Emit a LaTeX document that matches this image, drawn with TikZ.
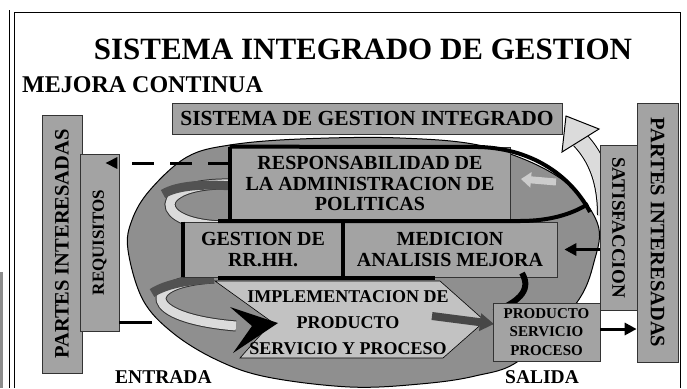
\documentclass[tikz,border=0pt]{standalone}
\usepackage{fontspec}
\setmainfont{Liberation Serif}
\usetikzlibrary{arrows.meta,calc}
\begin{document}
\begin{tikzpicture}[x=1pt,y=-1pt]
\tikzset{
 gbox/.style={draw=black!80, fill=black!36, line width=0.7pt, inner sep=0pt, align=center},
 heavy/.style={line width=4pt, black},
 ftw/.style={font=\bfseries\fontsize{20}{20.5}\selectfont},
 lbl/.style={inner sep=0pt},
 bandout/.style={black!80, line width=11pt},
 bandin/.style={black!14, line width=9pt},
 banddark/.style={black!68, line width=9pt},
 tipbig/.style={-{Triangle[length=12pt,width=12pt]}},
}
\useasboundingbox (0,0) rectangle (687,388);
% frame
\fill[black!45] (0,272) rectangle (3,388);
\draw[line width=1pt] (9,10) -- (9,388);
\draw[line width=1pt] (14,388) -- (14,12) -- (680,12) -- (680,388);
% titles
\node[lbl, font=\bfseries\fontsize{31}{32}\selectfont, anchor=base] (title) at (363,59) {SISTEMA INTEGRADO DE GESTION};
\node[lbl, font=\bfseries\fontsize{24}{25}\selectfont, anchor=base west] (mej) at (22,92) {MEJORA CONTINUA};
% big ellipse
\filldraw[fill=black!44, draw=black, line width=1pt] plot[smooth cycle, tension=0.6] coordinates {(128,250) (143,300) (173,333) (217,360) (267,377) (350,387) (420,384) (475,376) (520,360) (575,305) (594,262) (597,222) (560,178) (487,147) (400,138) (300,139) (230,145) (187,157) (150,190) (132,220)};
% left ring bands
\draw[bandout] (232,184) .. controls (150,182) and (150,226) .. (228,226);
\draw[bandin] (232,184) .. controls (150,182) and (150,226) .. (228,226);
\draw[banddark] (232,186) .. controls (205,184) and (178,185) .. (163,194);
\draw[bandout] (214,278) .. controls (140,282) and (140,318) .. (236,326);
\draw[bandin] (214,278) .. controls (140,282) and (140,318) .. (236,326);
\draw[banddark] (214,279) .. controls (188,280) and (166,284) .. (152,293);
% implementation chevron
\filldraw[fill=black!24, draw=black, line width=0.6pt] (215,281) -- (440,281) -- (485,321) -- (443,358) -- (240,358) -- (272,322) -- cycle;
% central boxes
\node[gbox, minimum width=390pt, minimum height=31pt, font=\bfseries\fontsize{21.5}{22}\selectfont] (sgi) at (367,118.5) {SISTEMA DE GESTION INTEGRADO};
\node[gbox, minimum width=280pt, minimum height=73pt, ftw] (resp) at (370,183.5) {RESPONSABILIDAD DE\\LA ADMINISTRACION DE\\POLITICAS};
\node[gbox, minimum width=160pt, minimum height=55pt, ftw] (ger) at (263,249.5) {GESTION DE\\RR.HH.};
\node[gbox, minimum width=214pt, minimum height=55pt, ftw] (med) at (450,249.5) {MEDICION\\ANALISIS MEJORA};
\node[lbl, font=\bfseries\fontsize{18}{26}\selectfont, align=center] (imp) at (348,323) {IMPLEMENTACION DE\\PRODUCTO\\SERVICIO Y PROCESO};
% heavy ring lines
\draw[heavy] (resp.north west) -- (480,147) .. controls (535,149) and (572,178) .. (590,212);
\draw[heavy] (resp.north west) -- (resp.south west);
\draw[heavy] (218,221) -- (520,221) .. controls (550,221) and (572,214) .. (588,204);
\draw[heavy] (ger.north west) -- (ger.south west);
\draw[heavy] (ger.north east) -- (ger.south east);
\draw[heavy] (218,278) -- (435,278);
% small light arrow inside ring (right)
\draw[black!20, line width=7pt, -{Triangle[length=10pt,width=15pt]}] (556,182) -- (521,179);
% hook from MEDICION to PRODUCTO
\draw[line width=6pt] (522,273) .. controls (533,292) and (515,303) .. (494,312);
% dark arrow toward producto
\draw[black!72, line width=8pt, -{Triangle[length=14pt,width=17pt]}] (432,316) -- (494,324);
% big entry arrow head
\fill[black] (230,307) -- (278,323) -- (233,353) -- (252,326) -- cycle;
% left boxes
\node[gbox, rotate=90, minimum width=258pt, minimum height=40pt, font=\bfseries\fontsize{20.5}{21}\selectfont] (pil) at (62,244) {PARTES INTERESADAS};
\node[gbox, rotate=90, minimum width=177pt, minimum height=39pt, font=\bfseries\fontsize{17}{18}\selectfont] (req) at (99.5,242.5) {REQUISITOS};
% dashed arrow responsabilidad -> requisitos
\coordinate (ds) at ($(resp.west)+(0,-20.5)$);
\draw[line width=3pt, dash pattern=on 22pt off 16pt, -{Triangle[length=12pt,width=11pt]}] (ds) -- ($(req.south |- ds)+(-14,0)$);
% entrada line
\coordinate (entin) at (152,322);
\draw[line width=3pt] (req.south |- entin) -- (entin);
% light curved block arrow to SGI
\draw[black, line width=18pt] (606,215) .. controls (606,180) and (596,157) .. (580,140);
\draw[black!14, line width=16pt] (606,215) .. controls (606,180) and (596,157) .. (580,140);
\filldraw[fill=black!14, draw=black, line width=1pt] (566,116) -- (599,129) -- (562,152) -- cycle;
% right boxes
\node[gbox, rotate=-90, minimum width=165pt, minimum height=37pt, font=\bfseries\fontsize{19}{20}\selectfont] (sat) at (618.5,227.5) {SATISFACCION};
\node[gbox, rotate=-90, minimum width=259pt, minimum height=41pt, font=\bfseries\fontsize{20.5}{21}\selectfont] (pir) at (657.5,232.5) {PARTES INTERESADAS};
\node[gbox, minimum width=107pt, minimum height=58pt, font=\bfseries\fontsize{15}{18.5}\selectfont] (prod) at (546.5,332) {PRODUCTO\\SERVICIO\\PROCESO};
% connectors right
\draw[line width=3pt, tipbig] (sat.south |- med.east) -- ($(med.east)+(7,0)$);
\draw[line width=3pt, tipbig] ($(prod.east)+(0,-3)$) -- ($(pir.south |- prod.east)+(0,-3)$);
% bottom labels
\node[lbl, font=\bfseries\fontsize{19.5}{20}\selectfont, anchor=base west] (ent) at (115,383) {ENTRADA};
\node[lbl, font=\bfseries\fontsize{19.5}{20}\selectfont, anchor=base west] (sal) at (505,383) {SALIDA};
\end{tikzpicture}
\end{document}
